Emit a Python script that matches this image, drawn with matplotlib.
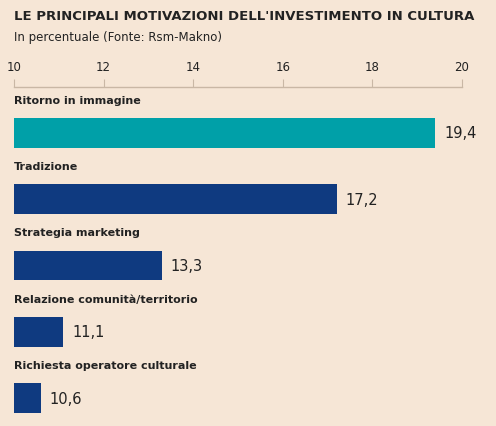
import matplotlib
matplotlib.use("Agg")
import matplotlib.pyplot as plt

categories = ["Ritorno in immagine", "Tradizione", "Strategia marketing",
              "Relazione comunità/territorio", "Richiesta operatore culturale"]
values = [19.4, 17.2, 13.3, 11.1, 10.6]
ticks = [10, 12, 14, 16, 18, 20]

BG = "#f6e6d6"
TEAL = "#00a0a8"
NAVY = "#0f3a80"
AXC = "#c9b7a5"
W, H = 496, 427

fig = plt.figure(figsize=(W / 100, H / 100), dpi=100, facecolor=BG)
ax = fig.add_axes([14 / W, 0, (462 - 14) / W, (H - 88) / H])
ax.set_facecolor(BG)

colors = [TEAL] + [NAVY] * (len(values) - 1)
ypos = list(range(len(values)))
ax.barh(ypos, [v - 10 for v in values], left=10, height=0.45, color=colors)
for y, c, v in zip(ypos, categories, values):
    ax.text(10, y - 0.5, c, fontsize=8, fontweight="bold", va="center", ha="left", color="#222222")
    ax.text(v + 0.2, y, f"{v:.1f}".replace(".", ","), fontsize=10.5, va="center", ha="left", color="#222222")

ax.set_xlim(10, 20)
ax.set_ylim(4.42, -0.69)
ax.xaxis.tick_top()
ax.set_xticks(ticks)
ax.tick_params(axis="x", direction="out", length=6, labelsize=8.5, pad=4, color=AXC, labelcolor="#222222")
ax.set_yticks([])
for s in ["left", "right", "bottom"]:
    ax.spines[s].set_visible(False)
ax.spines["top"].set_color(AXC)
ax.spines["top"].set_linewidth(1)

fig.text(14 / W, 1 - 16 / H, "LE PRINCIPALI MOTIVAZIONI DELL'INVESTIMENTO IN CULTURA",
         fontsize=9.5, fontweight="bold", va="center", color="#222222")
fig.text(14 / W, 1 - 37 / H, "In percentuale (Fonte: Rsm-Makno)", fontsize=8.5, va="center", color="#222222")

fig.savefig("out.png", dpi=100, facecolor=BG)
